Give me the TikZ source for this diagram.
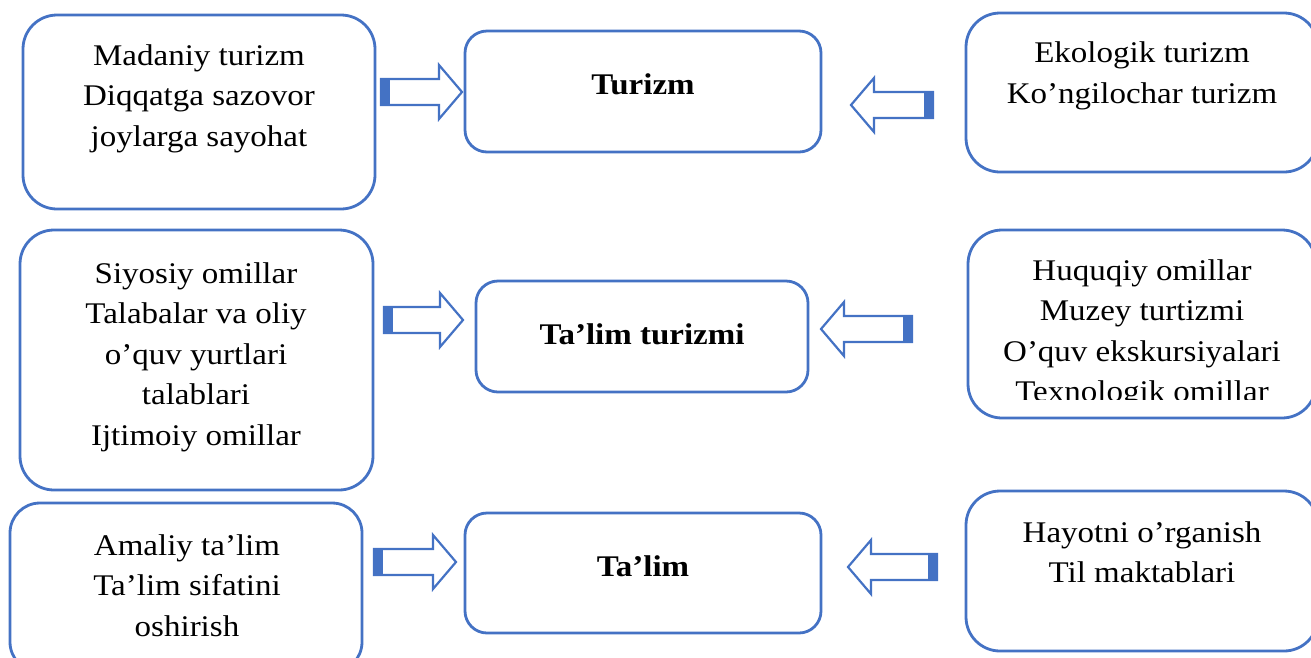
\documentclass[tikz,border=0pt]{standalone}
\usepackage{fontspec}
\setmainfont{Liberation Serif}[FakeStretch=1.1]
\usepackage{tikz}
\definecolor{boxBlue}{HTML}{4472C4}
\newcommand{\blockArrow}[3]{%%
  %% #1 tail x, #2 tip x, #3 centre y.
  \pgfmathsetmacro{\arrowDir}{sign(#2-#1)}
  \pgfmathsetmacro{\xhead}{#2-23*\arrowDir}
  \pgfmathsetmacro{\xbar}{#1+9*\arrowDir}
  \draw[arrowStyle] (#1,#3-13) -- (\xhead,#3-13) -- (\xhead,#3-27)
    -- (#2,#3) -- (\xhead,#3+27) -- (\xhead,#3+13) -- (#1,#3+13) -- cycle;
  \fill[barStyle] (#1,#3-13) rectangle (\xbar,#3+13);
}

\begin{document}
\begin{tikzpicture}[%%
  x=1pt,y=-1pt,%%
  sideBox/.style={draw=boxBlue,line width=2.8pt,rounded corners=34pt},%%
  midBox/.style={draw=boxBlue,line width=2.8pt,rounded corners=22pt},%%
  textStyle/.style={align=center,font=\fontsize{30}{40.5}\selectfont},%%
  titleStyle/.style={align=center,font=\fontsize{30}{40.5}\selectfont\bfseries},%%
  arrowStyle/.style={draw=boxBlue,line width=2.2pt,fill=white,line join=miter},%%
  barStyle/.style={fill=boxBlue}
]
%%
\path[use as bounding box] (0,0) rectangle (1311,657);
\clip (0,0) rectangle (1311,657);
%%
%% The middle column.
\node[midBox,minimum width=356pt,minimum height=121pt] (turizm) at (643,91.5) {};
\node[titleStyle] (turizmText) at (643,84) {Turizm};
\node[midBox,minimum width=332pt,minimum height=111pt] (talimTurizmi) at (642,336.5) {};
\node[titleStyle] (talimTurizmiText) at (642,334) {Ta’lim turizmi};
\node[midBox,minimum width=356pt,minimum height=120pt] (talim) at (643,573) {};
\node[titleStyle] (talimText) at (643,566) {Ta’lim};
%%
%% The left column.
\node[sideBox,minimum width=352pt,minimum height=194pt] (madaniy) at (199,112) {};
\node[textStyle] (madaniyText) at (199,98.5)
  {Madaniy turizm\\Diqqatga sazovor\\joylarga sayohat};
\node[sideBox,minimum width=353pt,minimum height=260pt] (siyosiy) at (196.5,360) {};
\node[textStyle] (siyosiyText) at (196,357)
  {Siyosiy omillar\\Talabalar va oliy\\o’quv yurtlari\\talablari\\Ijtimoiy omillar};
\node[sideBox,minimum width=352pt,minimum height=169pt,rounded corners=30pt] (amaliy) at (186,587.5) {};
\node[textStyle] (amaliyText) at (187,585.5)
  {Amaliy ta’lim\\Ta’lim sifatini\\oshirish};
%%
%% The right column.
\node[sideBox,minimum width=352pt,minimum height=159pt] (ekologik) at (1142,92.5) {};
\node[textStyle] (ekologikText) at (1142,76)
  {Ekologik turizm\\Ko’ngilochar turizm};
\node[sideBox,minimum width=348pt,minimum height=188pt] (huquqiy) at (1142,324) {};
\begin{scope}
  \clip (960,225) rectangle (1311,399);
  \node[textStyle] (huquqiyText) at (1142,334)
    {Huquqiy omillar\\Muzey turtizmi\\O’quv ekskursiyalari\\Texnologik omillar};
\end{scope}
\node[sideBox,minimum width=352pt,minimum height=160pt] (hayotni) at (1142,571) {};
\node[textStyle] (hayotniText) at (1142,552)
  {Hayotni o’rganish\\Til maktablari};
%%
%% The block arrows.
\blockArrow{381}{462}{92}
\blockArrow{933}{851}{105}
\blockArrow{384}{463}{320}
\blockArrow{912}{821}{329}
\blockArrow{374}{456}{562}
\blockArrow{937}{848}{567}
\end{tikzpicture}
\end{document}
